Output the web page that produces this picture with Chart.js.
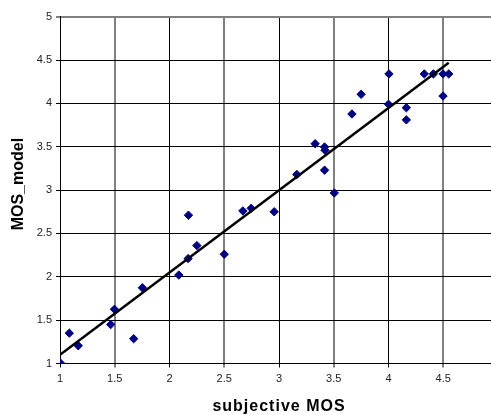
<!DOCTYPE html>
<html>
<head>
<meta charset="utf-8">
<script src="https://cdn.jsdelivr.net/npm/chart.js@4.4.0/dist/chart.umd.min.js"></script>
<style>
  html, body { margin: 0; padding: 0; background: #fff; overflow: hidden; }
  #wrap { width: 491px; height: 415px; overflow: hidden; position: relative; }
  canvas { display: block; }
</style>
</head>
<body>
<div id="wrap"><canvas id="c" width="520" height="415"></canvas></div>
<script>
// Data
const subjectiveMOS = [1.0, 1.085, 1.167, 1.463, 1.497, 1.673, 1.752, 2.085, 2.17, 2.173, 2.25, 2.5, 2.67, 2.746, 2.956, 3.163, 3.33, 3.416, 3.42, 3.416, 3.505, 3.666, 3.75, 4.0, 4.004, 4.163, 4.163, 4.327, 4.41, 4.498, 4.498, 4.55];
const modelMOS     = [1.01, 1.35, 1.205, 1.45, 1.625, 1.286, 1.874, 2.02, 2.21, 2.71, 2.36, 2.26, 2.76, 2.79, 2.75, 3.18, 3.535, 3.497, 3.46, 3.23, 2.967, 3.878, 4.105, 3.99, 4.34, 3.95, 3.81, 4.34, 4.34, 4.34, 4.085, 4.34];
const fitX = [1.0, 4.55];
const fitY = [1.1, 4.47];
const axisMin = 1, axisMax = 5, axisStep = 0.5;
const xTitle = 'subjective MOS';
const yTitle = 'MOS_model';

const points = subjectiveMOS.map((x, i) => ({ x: x, y: modelMOS[i] }));
const fitLine = fitX.map((x, i) => ({ x: x, y: fitY[i] }));

Chart.defaults.font.family = '"Liberation Sans", Arial, sans-serif';

function wrapTitle(scale, spacing, dy) {
  if (scale._wrapped) return;
  scale._wrapped = true;
  const orig = scale.drawTitle;
  scale.drawTitle = function () {
    const ctx = this.ctx;
    ctx.save();
    if (spacing) ctx.letterSpacing = spacing;
    if (dy) ctx.translate(0, dy);
    orig.call(this);
    ctx.restore();
  };
}

const fmt = (v) => String(Math.round(v * 10) / 10);

new Chart(document.getElementById('c'), {
  type: 'scatter',
  data: {
    datasets: [
      {
        type: 'line',
        data: fitLine,
        borderColor: '#000',
        borderWidth: 2.5,
        pointRadius: 0,
        fill: false,
        tension: 0
      },
      {
        data: points,
        pointStyle: 'rectRot',
        pointRadius: 4.2,
        backgroundColor: '#000080',
        borderColor: '#000080',
        borderWidth: 1
      }
    ]
  },
  options: {
    responsive: false,
    animation: false,
    devicePixelRatio: 1,
    layout: { padding: { top: 16.7, left: 0, right: 22, bottom: 0 } },
    plugins: { legend: { display: false }, tooltip: { enabled: false } },
    scales: {
      x: {
        type: 'linear',
        min: axisMin, max: axisMax,
        ticks: { stepSize: axisStep, color: '#222', font: { size: 11 }, padding: 5, maxRotation: 0, callback: fmt },
        grid: {
          color: (c) => (c.tick && c.tick.value % 1 === 0) ? '#000' : '#808080',
          lineWidth: (c) => (c.tick && c.tick.value % 1 === 0) ? 1 : 2,
          tickLength: 4
        },
        border: { color: '#000', width: 1 },
        title: { display: true, text: xTitle, color: '#000', font: { size: 16, weight: 'bold', lineHeight: 1 }, padding: { top: 0, bottom: 0 } },
        afterFit: (s) => { s.height = 51.5; wrapTitle(s, '1px', 0); }
      },
      y: {
        type: 'linear',
        min: axisMin, max: axisMax,
        ticks: { stepSize: axisStep, color: '#222', font: { size: 11 }, padding: 4, callback: fmt },
        grid: {
          color: (c) => (c.tick && c.tick.value === axisMax) ? '#808080' : '#000',
          lineWidth: (c) => (c.tick && c.tick.value === axisMax) ? 2 : 1,
          tickLength: 4
        },
        border: { color: '#000', width: 1 },
        title: { display: true, text: yTitle, color: '#000', font: { size: 16, weight: 'bold', lineHeight: 1 }, padding: { top: 11, bottom: 0 } },
        afterFit: (s) => { s.width = 60; wrapTitle(s, '', -6); }
      }
    }
  }
});
</script>
</body>
</html>
